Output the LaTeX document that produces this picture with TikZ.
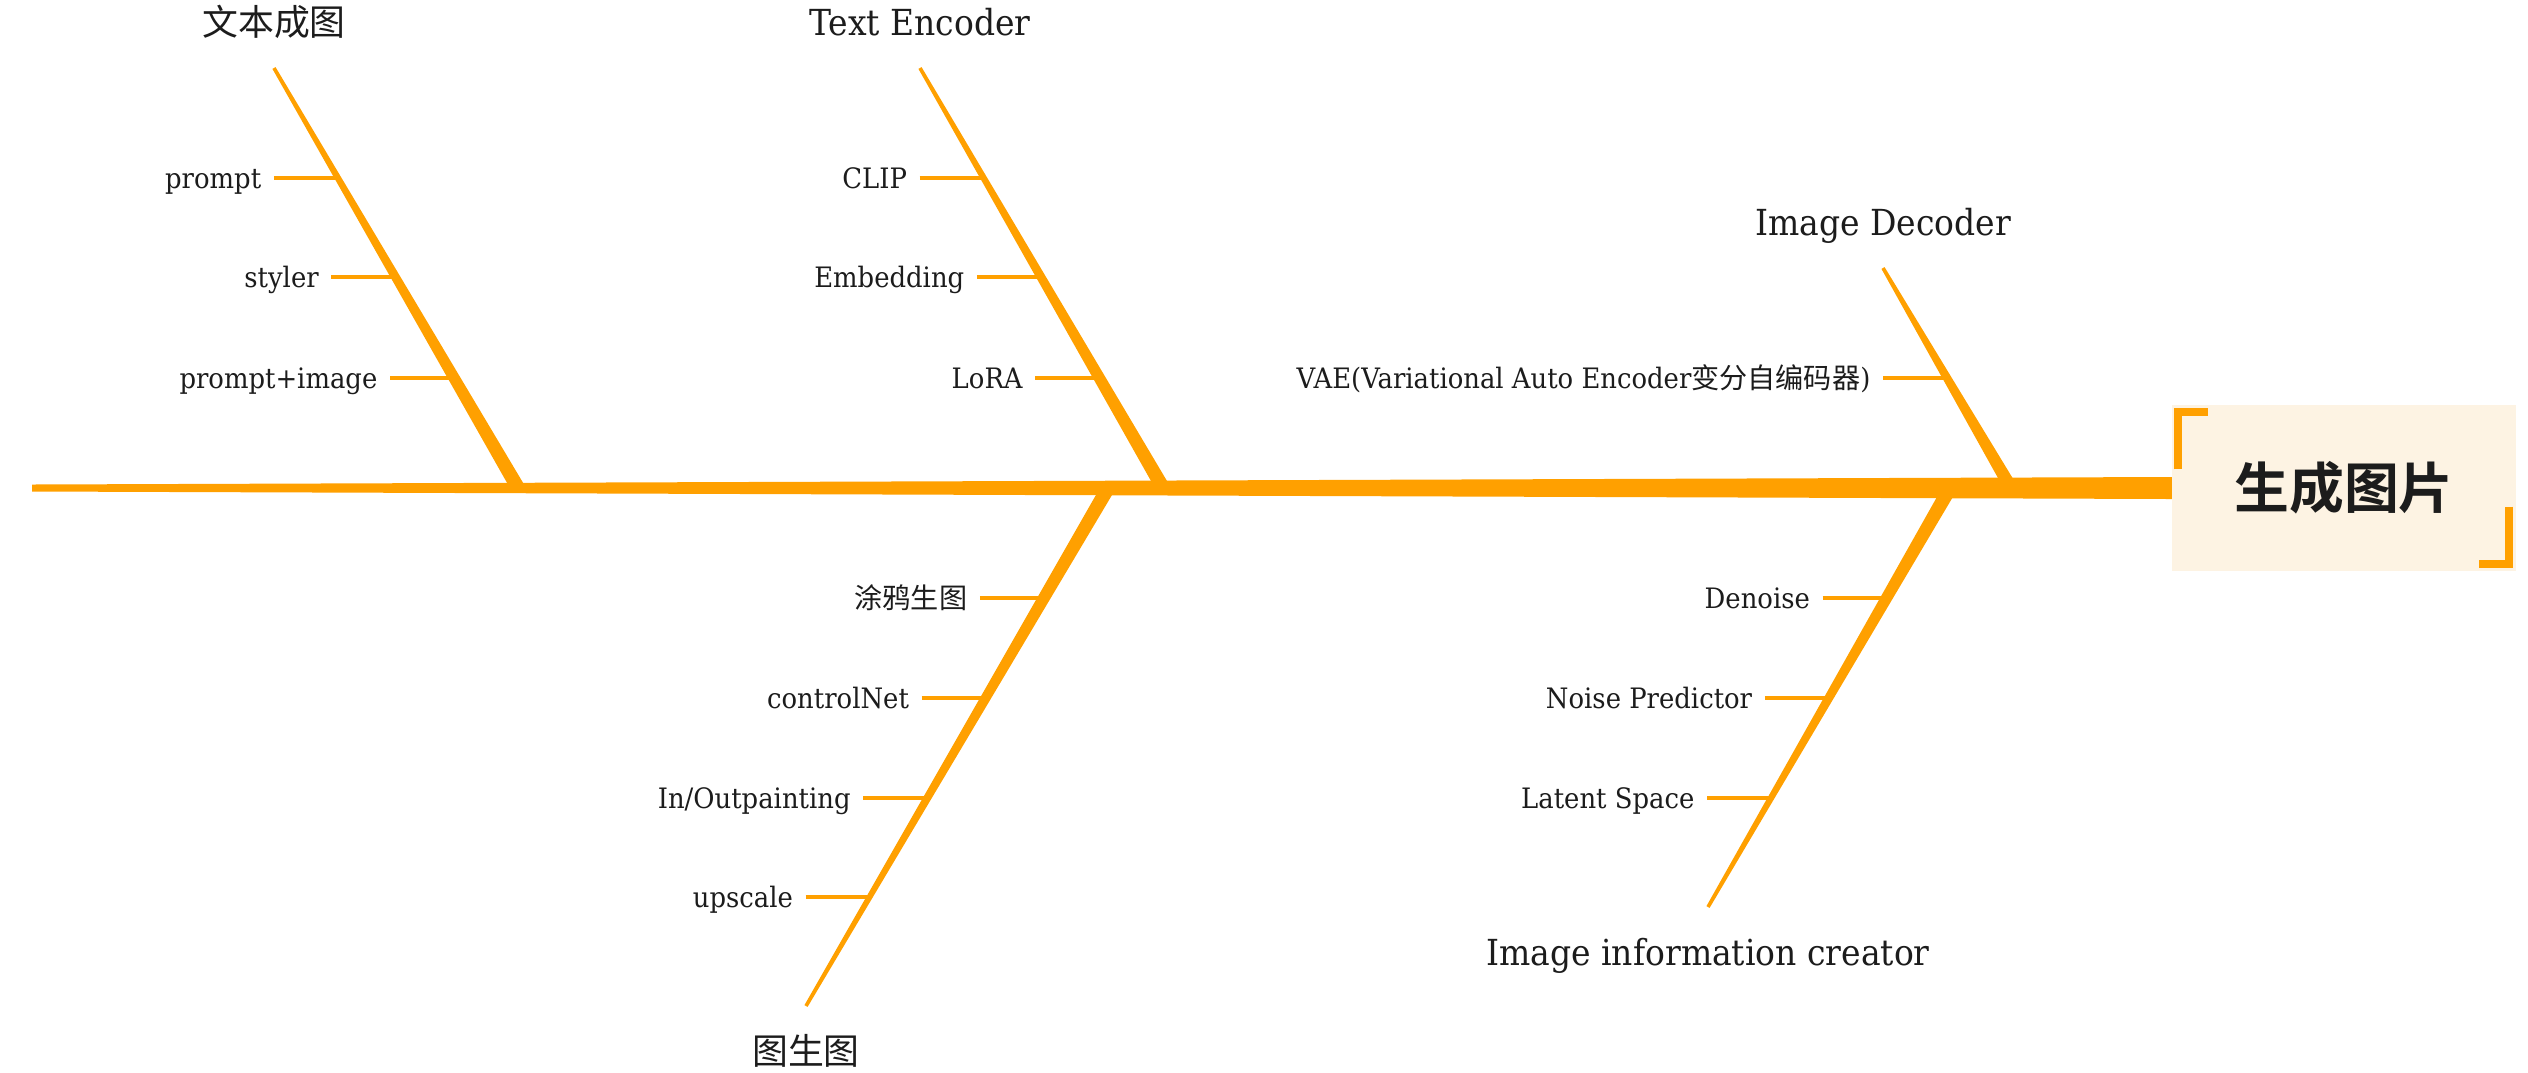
\documentclass[tikz,border=0pt]{standalone}
\usepackage{fontspec}
\setmainfont{DejaVu Serif}[FakeStretch=0.92]
\newfontfamily\cjk{Noto Sans CJK SC}[BoldFont={* Bold}]
\usetikzlibrary{calc,positioning}
\definecolor{bonecol}{RGB}{255,160,0}
\definecolor{headfill}{RGB}{253,243,227}
\definecolor{inkcol}{RGB}{28,28,28}
% tapered bone: from #1 (half width #3) to #2 (half width #4)
\newcommand{\bone}[4]{\fill[bonecol] ($(#1)!#3!90:(#2)$) -- ($(#2)!#4!-90:(#1)$) -- ($(#2)!#4!90:(#1)$) -- ($(#1)!#3!-90:(#2)$) -- cycle;}

\begin{document}
\begin{tikzpicture}[x=0.01cm,y=-0.01cm,
    lbl/.style={font=\fontsize{8}{9}\selectfont, text=inkcol, inner sep=0pt, text height=5.8pt, text depth=0pt},
    title/.style={font=\fontsize{10.2}{12}\selectfont, text=inkcol, inner sep=0pt, text height=7.4pt, text depth=0pt},
    tick/.style={draw=bonecol, line width=0.04cm},
    head/.style={fill=headfill, inner sep=0pt, minimum width=3.44cm, minimum height=1.66cm, font=\fontsize{15.6}{18}\selectfont, text=inkcol},
    bracket/.style={draw=bonecol, line width=0.08cm, line cap=butt, line join=miter}]
\useasboundingbox (0,0) rectangle (2528,1072);

\coordinate (tail) at (32,488);
\coordinate (headend) at (2172,488);
\coordinate (b1top) at (274,68);   \coordinate (b1bot) at (518,488);
\coordinate (b2top) at (920,68);   \coordinate (b2bot) at (1163,488);
\coordinate (b3top) at (1883,268); \coordinate (b3bot) at (2011,488);
\coordinate (b4top) at (1108,488); \coordinate (b4bot) at (806,1006);
\coordinate (b5top) at (1950,488); \coordinate (b5bot) at (1708,907);

\bone{b1top}{b1bot}{0.018cm}{0.07cm}
\bone{b2top}{b2bot}{0.018cm}{0.07cm}
\bone{b3top}{b3bot}{0.018cm}{0.065cm}
\bone{b4top}{b4bot}{0.07cm}{0.018cm}
\bone{b5top}{b5bot}{0.07cm}{0.018cm}
\bone{tail}{headend}{0.035cm}{0.11cm}

\node[title, above=0.32cm of b1top] (txt2img) {\cjk 文本成图};
\node[title, above=0.32cm of b2top] (textenc) {Text Encoder};
\node[title, above=0.32cm of b3top] (imgdec) {Image Decoder};
\node[title, below=0.32cm of b4bot] (img2img) {\cjk 图生图};
\node[title, below=0.32cm of b5bot] (infocreator) {Image information creator};

\coordinate (t11) at (intersection of b1top--b1bot and 0,178--2528,178);
\coordinate (t12) at (intersection of b1top--b1bot and 0,277--2528,277);
\coordinate (t13) at (intersection of b1top--b1bot and 0,378--2528,378);
\coordinate (t21) at (intersection of b2top--b2bot and 0,178--2528,178);
\coordinate (t22) at (intersection of b2top--b2bot and 0,277--2528,277);
\coordinate (t23) at (intersection of b2top--b2bot and 0,378--2528,378);
\coordinate (t31) at (intersection of b3top--b3bot and 0,378--2528,378);
\coordinate (t41) at (intersection of b4top--b4bot and 0,598--2528,598);
\coordinate (t42) at (intersection of b4top--b4bot and 0,698--2528,698);
\coordinate (t43) at (intersection of b4top--b4bot and 0,798--2528,798);
\coordinate (t44) at (intersection of b4top--b4bot and 0,897--2528,897);
\coordinate (t51) at (intersection of b5top--b5bot and 0,598--2528,598);
\coordinate (t52) at (intersection of b5top--b5bot and 0,698--2528,698);
\coordinate (t53) at (intersection of b5top--b5bot and 0,798--2528,798);

\node[lbl, left=0.76cm of t11] (prompt) {prompt};
\node[lbl, left=0.76cm of t12] (styler) {styler};
\node[lbl, left=0.76cm of t13] (promptimg) {prompt+image};
\node[lbl, left=0.76cm of t21] (clip) {CLIP};
\node[lbl, left=0.76cm of t22] (embed) {Embedding};
\node[lbl, left=0.76cm of t23] (lora) {LoRA};
\node[lbl, left=0.76cm of t31] (vae) {VAE(Variational Auto Encoder{\cjk 变分自编码器})};
\node[lbl, left=0.76cm of t41] (doodle) {\cjk 涂鸦生图};
\node[lbl, left=0.76cm of t42] (cnet) {controlNet};
\node[lbl, left=0.76cm of t43] (inout) {In/Outpainting};
\node[lbl, left=0.76cm of t44] (upscale) {upscale};
\node[lbl, left=0.76cm of t51] (denoise) {Denoise};
\node[lbl, left=0.76cm of t52] (noisepred) {Noise Predictor};
\node[lbl, left=0.76cm of t53] (latent) {Latent Space};

\draw[tick] ([xshift=0.12cm]prompt.east) -- (t11);
\draw[tick] ([xshift=0.12cm]styler.east) -- (t12);
\draw[tick] ([xshift=0.12cm]promptimg.east) -- (t13);
\draw[tick] ([xshift=0.12cm]clip.east) -- (t21);
\draw[tick] ([xshift=0.12cm]embed.east) -- (t22);
\draw[tick] ([xshift=0.12cm]lora.east) -- (t23);
\draw[tick] ([xshift=0.12cm]vae.east) -- (t31);
\draw[tick] ([xshift=0.12cm]doodle.east) -- (t41);
\draw[tick] ([xshift=0.12cm]cnet.east) -- (t42);
\draw[tick] ([xshift=0.12cm]inout.east) -- (t43);
\draw[tick] ([xshift=0.12cm]upscale.east) -- (t44);
\draw[tick] ([xshift=0.12cm]denoise.east) -- (t51);
\draw[tick] ([xshift=0.12cm]noisepred.east) -- (t52);
\draw[tick] ([xshift=0.12cm]latent.east) -- (t53);

\node[head] (gen) at (2344,488) {\cjk\bfseries 生成图片};
\draw[bracket] ([shift={(0.07cm,-0.65cm)}]gen.north west) -- ([shift={(0.07cm,-0.08cm)}]gen.north west) -- ([shift={(0.37cm,-0.08cm)}]gen.north west);
\draw[bracket] ([shift={(-0.08cm,0.65cm)}]gen.south east) -- ([shift={(-0.08cm,0.08cm)}]gen.south east) -- ([shift={(-0.38cm,0.08cm)}]gen.south east);
\end{tikzpicture}
\end{document}
